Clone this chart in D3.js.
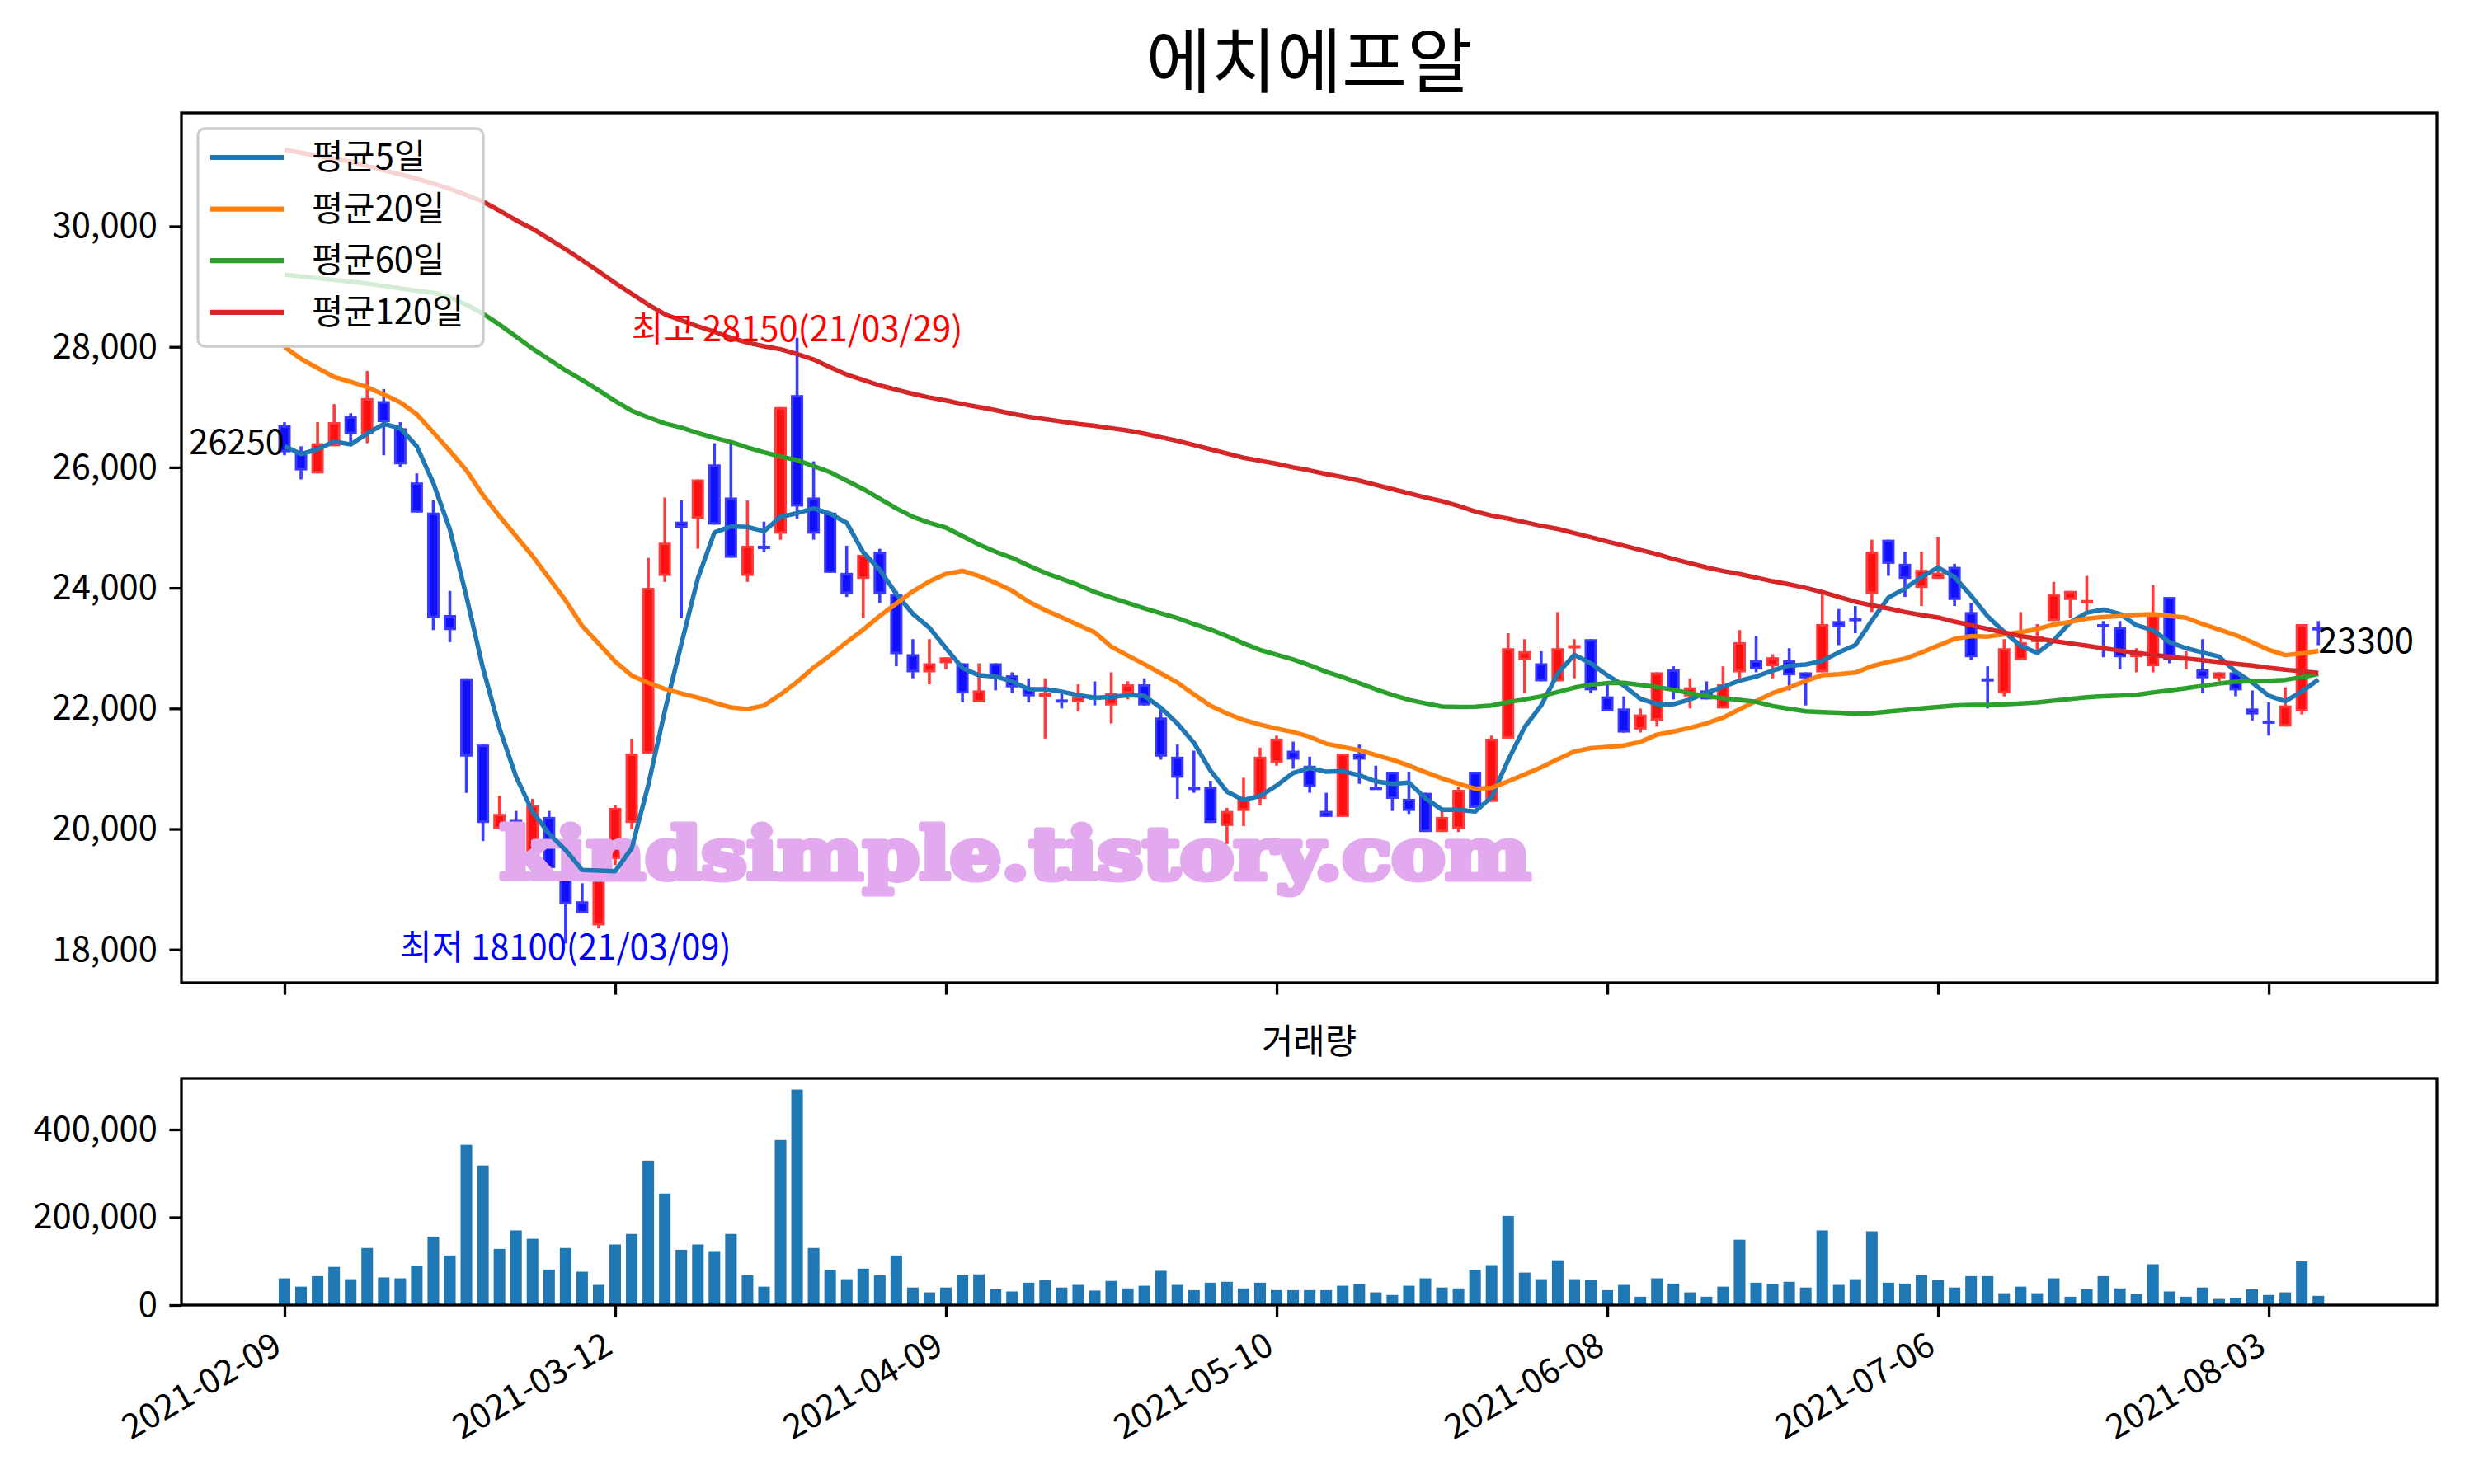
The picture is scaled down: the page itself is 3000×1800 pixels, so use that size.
<!DOCTYPE html>
<html>
<head>
<meta charset="utf-8">
<title>에치에프알</title>
<script src="https://cdn.jsdelivr.net/npm/d3@7"></script>
<style>
  body { margin: 0; background: #fff; }
  svg text { font-family: "Noto Sans CJK KR", "Noto Sans", sans-serif; }
</style>
</head>
<body>
<script>

// daily candles, index 0 = 2021-02-09
var opens = [26700,26250,25900,26350,26850,26550,27100,26650,25750,25250,23550,22500,21400,20000,20150,19600,20200,19250,18800,18400,
  19500,20100,21250,24200,25100,25150,26050,25500,24200,24700,24900,27200,25500,25250,24250,24150,24600,23900,22900,22600,
  22750,22750,22100,22750,22550,22350,22200,22150,22100,22200,22050,22250,22400,21850,21200,20700,20700,20050,20300,20500,
  21100,21300,21050,20300,20200,21250,20700,20950,20500,20600,19950,20000,20950,20450,21500,22800,22750,22450,23000,23150,
  22200,22000,21650,21800,22650,22200,22300,22000,22600,22800,22700,22800,22600,22600,23450,23500,23900,24800,24400,24000,
  24150,24350,23600,22500,22250,22800,23100,23450,23800,23750,23400,23350,22850,22700,23850,22800,22650,22500,22600,22000,
  21800,21700,21950,23350];
var highs = [26750,26350,26750,27050,26900,27600,27300,26750,25900,25450,23950,22500,21400,20550,20300,20500,20300,19350,19100,19550,
  20400,21500,24500,25500,25450,25800,26400,26450,25450,25100,27000,28150,26100,25250,24700,24550,24650,23950,23150,23150,
  22850,22750,22750,22750,22600,22500,22500,22250,22400,22450,22600,22450,22500,22000,21400,21300,20800,20350,20850,21350,
  21550,21450,21200,20600,21250,21400,21050,20950,20950,20600,20300,20700,20950,21550,23250,23150,22950,23600,23150,23150,
  22400,22200,22000,22600,22700,22500,22450,22700,23300,23200,22900,23000,22600,23900,23650,23700,24800,24800,24600,24600,
  24850,24400,23750,22700,23150,23600,23400,24100,23950,24200,23450,23450,23000,24050,23850,22950,23150,22600,22600,22300,
  22100,22350,23400,23450];
var lows = [26200,25800,25900,26350,26400,26400,26200,26000,25250,23300,23100,20600,19800,20000,19400,19500,19200,18100,18600,18350,
  19400,20000,21250,24100,23500,24650,25050,24500,24100,24600,24800,25150,24800,24250,23850,23500,23750,22700,22500,22400,
  22650,22100,22100,22300,22250,22100,21500,22000,21950,22050,21750,22150,22050,21150,20500,20600,20100,19750,20050,20400,
  21050,21000,20600,20200,20200,20750,20650,20300,20250,19950,19950,19950,20350,20450,21500,22250,22450,22450,22500,22250,
  21950,21600,21600,21700,22150,22000,22150,22000,22500,22600,22500,22300,22050,22600,23050,23250,23600,24200,23850,23700,
  24150,23700,22800,22000,22200,22800,22950,23450,23500,23600,22850,22650,22600,22600,22750,22650,22250,22450,22200,21800,
  21550,21700,21900,23050];
var closes = [26250,25950,26400,26750,26550,27150,26750,26050,25250,23500,23300,21200,20100,20250,19500,20400,19350,18750,18600,19450,
  20350,21250,24000,24750,25000,25800,25050,24500,24700,24650,27000,25350,24900,24250,23900,24550,23900,22900,22600,22750,
  22850,22250,22300,22500,22350,22200,22250,22100,22200,22150,22250,22400,22050,21200,20850,20650,20100,20300,20500,21200,
  21500,21150,20700,20200,21250,21150,20650,20500,20300,19950,20200,20650,20350,21500,23000,22950,22450,23000,23050,22300,
  21950,21600,21900,22600,22300,22350,22150,22400,23100,22650,22850,22550,22500,23400,23350,23450,24600,24400,24150,24300,
  24250,23800,22850,22450,23000,23100,23200,23900,23950,23800,23350,22850,22950,23550,22800,22850,22500,22600,22300,21900,
  21750,22050,23400,23300];
var volumes = [61000,42000,66000,87000,59000,130000,63000,61000,89000,156000,113000,365000,318000,128000,170000,151000,81000,130000,76000,46000,
  138000,162000,329000,254000,126000,138000,123000,162000,68000,42000,376000,491000,130000,80000,59000,83000,68000,113000,40000,29000,
  40000,68000,70000,36000,31000,51000,57000,40000,46000,33000,55000,38000,44000,78000,46000,34000,51000,53000,38000,51000,
  34000,34000,34000,34000,44000,48000,29000,23000,44000,61000,40000,38000,80000,91000,203000,74000,59000,102000,59000,57000,
  34000,46000,19000,61000,49000,29000,19000,42000,149000,51000,48000,53000,40000,170000,46000,59000,168000,51000,49000,68000,
  57000,40000,66000,66000,27000,42000,27000,61000,19000,36000,66000,38000,25000,93000,31000,19000,40000,14000,16000,36000,
  23000,29000,100000,21000];

// moving average values on the first days, before the window is full
var ma5Head = [26350,26220,26300,26430];
var ma20Head = [28000,27800,27650,27500,27420,27330,27210,27080,26880,26580,26270,25950,25540,25190,24860,24530,24160,23790,23370];
var ma60Head = [29200,29170,29140,29110,29080,29050,29010,28970,28930,28900,28820,28700,28550,28370,28170,27970,27790,27610,27450,27280,
  27100,26940,26830,26730,26660,26570,26490,26420,26330,26250,26180,26120,26020,25920,25780,25640,25480,25320,25180,25080,
  25000,24860,24720,24600,24500,24370,24250,24150,24050,23930,23840,23750,23660,23580,23500,23400,23310,23200,23080];
var ma120Head = [31270,31220,31170,31120,31070,31000,30930,30860,30790,30710,30620,30520,30410,30260,30100,29960,29790,29620,29440,29250,
  29060,28880,28700,28540,28440,28340,28250,28150,28070,28010,27960,27880,27790,27660,27540,27450,27360,27290,27220,27160,
  27110,27050,27000,26950,26890,26840,26800,26760,26720,26690,26650,26610,26560,26500,26440,26370,26300,26230,26160,26110,
  26060,26000,25950,25890,25840,25780,25710,25640,25570,25500,25440,25360,25270,25200,25150,25090,25030,24980,24910,24840,
  24770,24700,24630,24560,24480,24410,24340,24280,24230,24170,24110,24060,24000,23930,23850,23770,23710,23660,23600,23550,
  23510,23440,23380,23320,23260,23200,23160,23120,23080,23040,23000,22960,22920,22890,22860,22830,22800,22770,22740];

var maNames = ["평균5일", "평균20일", "평균60일", "평균120일"];
var maColors = ["#1f77b4", "#ff7f0e", "#2ca02c", "#d62728"];

var tickIdx = [0, 20, 40, 60, 80, 100, 120];
var tickLabels = ["2021-02-09", "2021-03-12", "2021-04-09", "2021-05-10", "2021-06-08", "2021-07-06", "2021-08-03"];
var priceTicks = [18000, 20000, 22000, 24000, 26000, 28000, 30000];
var volTicks = [0, 200000, 400000];

var width = 3000,
    height = 1800;

var fs = 41.7;

function rolling(n, head) {
  return closes.map(function(c, i) {
    return i < n - 1 ? head[i] : d3.mean(closes.slice(i - n + 1, i + 1));
  });
}
var maSeries = [rolling(5, ma5Head), rolling(20, ma20Head), rolling(60, ma60Head), rolling(120, ma120Head)];

var svg = d3.select("body").append("svg")
    .attr("width", width)
    .attr("height", height);

svg.append("rect").attr("width", width).attr("height", height).attr("fill", "#fff");

var x = d3.scaleLinear().domain([-6.234, 130.17]).range([220, 2955]);
var y = d3.scaleLinear().domain([17449, 31881]).range([1192, 137]);
var yv = d3.scaleLinear().domain([0, 516450]).range([1583, 1308]);

var idx = d3.range(closes.length);

// title
svg.append("text")
    .attr("x", (220 + 2955) / 2)
    .attr("y", 106)
    .attr("text-anchor", "middle")
    .attr("font-size", 86)
    .text("에치에프알");

// ---- volume panel ----
svg.append("text")
    .attr("x", (220 + 2955) / 2)
    .attr("y", 1278)
    .attr("text-anchor", "middle")
    .attr("font-size", fs)
    .text("거래량");

svg.append("g").selectAll("rect")
    .data(idx).enter()
    .append("rect")
    .attr("x", function(i) { return x(i - 0.35); })
    .attr("width", x(0.35) - x(-0.35))
    .attr("y", function(i) { return yv(volumes[i]); })
    .attr("height", function(i) { return yv(0) - yv(volumes[i]); })
    .attr("fill", "#1f77b4");

var vAxis = svg.append("g")
    .attr("transform", "translate(220,0)")
    .call(d3.axisLeft(yv).tickValues(volTicks).tickFormat(d3.format(",")).tickSize(14.6).tickPadding(14.6));

var xAxisV = svg.append("g")
    .attr("transform", "translate(0,1583)")
    .call(d3.axisBottom(x).tickValues(tickIdx).tickFormat("").tickSize(14.6));

svg.append("g").selectAll("text")
    .data(tickIdx).enter()
    .append("text")
    .attr("transform", function(d) { return "translate(" + (x(d) - 1) + ",1640) rotate(-30)"; })
    .attr("text-anchor", "end")
    .attr("font-size", fs)
    .text(function(d, k) { return tickLabels[k]; });

svg.append("rect")
    .attr("x", 220).attr("y", 1308)
    .attr("width", 2955 - 220).attr("height", 1583 - 1308)
    .attr("fill", "none").attr("stroke", "#000").attr("stroke-width", 3.3);

// ---- price panel ----
var pAxis = svg.append("g")
    .attr("transform", "translate(220,0)")
    .call(d3.axisLeft(y).tickValues(priceTicks).tickFormat(d3.format(",")).tickSize(14.6).tickPadding(14.6));

var xAxisP = svg.append("g")
    .attr("transform", "translate(0,1192)")
    .call(d3.axisBottom(x).tickValues(tickIdx).tickFormat("").tickSize(14.6));

[vAxis, pAxis, xAxisV, xAxisP].forEach(function(a) {
  a.select(".domain").remove();
  a.selectAll("line").attr("stroke", "#000").attr("stroke-width", 3.3);
  a.selectAll("text").attr("font-size", fs).attr("fill", "#000")
      .style("font-family", "'Noto Sans CJK KR', sans-serif");
});

var plot = svg.append("g");

var up = function(i) { return closes[i] >= opens[i]; };

// wicks
plot.append("g").selectAll("line")
    .data(idx).enter()
    .append("line")
    .attr("x1", function(i) { return x(i); })
    .attr("x2", function(i) { return x(i); })
    .attr("y1", function(i) { return y(highs[i]); })
    .attr("y2", function(i) { return y(lows[i]); })
    .attr("stroke", function(i) { return up(i) ? "#ff3c3c" : "#3c3cff"; })
    .attr("stroke-width", 3.6);

// bodies
plot.append("g").selectAll("rect")
    .data(idx).enter()
    .append("rect")
    .attr("x", function(i) { return x(i) - 6; })
    .attr("width", 12)
    .attr("y", function(i) { return y(Math.max(opens[i], closes[i])) + 1.5; })
    .attr("height", function(i) { return Math.max(1, Math.abs(y(opens[i]) - y(closes[i])) - 3); })
    .attr("fill", function(i) { return up(i) ? "#ff1010" : "#1010ff"; })
    .attr("stroke", function(i) { return up(i) ? "#ff3a3a" : "#3a3aff"; })
    .attr("stroke-width", 3);

// watermark
svg.append("text")
    .attr("x", 606)
    .attr("y", 1066)
    .attr("textLength", 1250)
    .attr("lengthAdjust", "spacingAndGlyphs")
    .attr("font-size", 86)
    .attr("font-weight", "bold")
    .style("font-family", "'DejaVu Serif', serif")
    .attr("fill", "#e2a9ee")
    .attr("stroke", "#e2a9ee")
    .attr("stroke-width", 7)
    .attr("stroke-linejoin", "round")
    .text("kindsimple.tistory.com");

// moving averages
var line = d3.line()
    .x(function(d, i) { return x(i); })
    .y(function(d) { return y(d); });

svg.append("g").selectAll("path")
    .data(maSeries).enter()
    .append("path")
    .attr("d", line)
    .attr("fill", "none")
    .attr("stroke", function(d, k) { return maColors[k]; })
    .attr("stroke-width", 5.5)
    .attr("stroke-linejoin", "round");

// legend
var legend = svg.append("g");
legend.append("rect")
    .attr("x", 240).attr("y", 156)
    .attr("width", 346).attr("height", 264)
    .attr("rx", 8)
    .attr("fill", "#fff").attr("fill-opacity", 0.8)
    .attr("stroke", "#cccccc").attr("stroke-width", 3.3);

maNames.forEach(function(name, k) {
  var ly = 191 + k * 62.6;
  legend.append("line")
      .attr("x1", 255).attr("x2", 344)
      .attr("y1", ly).attr("y2", ly)
      .attr("stroke", maColors[k]).attr("stroke-width", 6.2);
  legend.append("text")
      .attr("x", 378).attr("y", ly + 14)
      .attr("font-size", fs)
      .text(name);
});

// high / low and first / last close labels
var hiIdx = d3.maxIndex(highs),
    loIdx = d3.minIndex(lows);

svg.append("text")
    .attr("x", x(hiIdx)).attr("y", y(highs[hiIdx]) + 4)
    .attr("text-anchor", "middle")
    .attr("font-size", fs)
    .attr("fill", "#ff0000")
    .text("최고 " + highs[hiIdx] + "(21/03/29)");

svg.append("text")
    .attr("x", x(loIdx)).attr("y", y(lows[loIdx]) + 20)
    .attr("text-anchor", "middle")
    .attr("font-size", fs)
    .attr("fill", "#0000ff")
    .text("최저 " + lows[loIdx] + "(21/03/09)");

svg.append("text")
    .attr("x", x(0)).attr("y", y(closes[0]) + 2)
    .attr("text-anchor", "end")
    .attr("font-size", fs)
    .text(closes[0]);

var last = closes.length - 1;
svg.append("text")
    .attr("x", x(last)).attr("y", y(closes[last]) + 28)
    .attr("text-anchor", "start")
    .attr("font-size", fs)
    .text(closes[last]);

// frame
svg.append("rect")
    .attr("x", 220).attr("y", 137)
    .attr("width", 2955 - 220).attr("height", 1192 - 137)
    .attr("fill", "none").attr("stroke", "#000").attr("stroke-width", 3.3);

</script>
</body>
</html>
